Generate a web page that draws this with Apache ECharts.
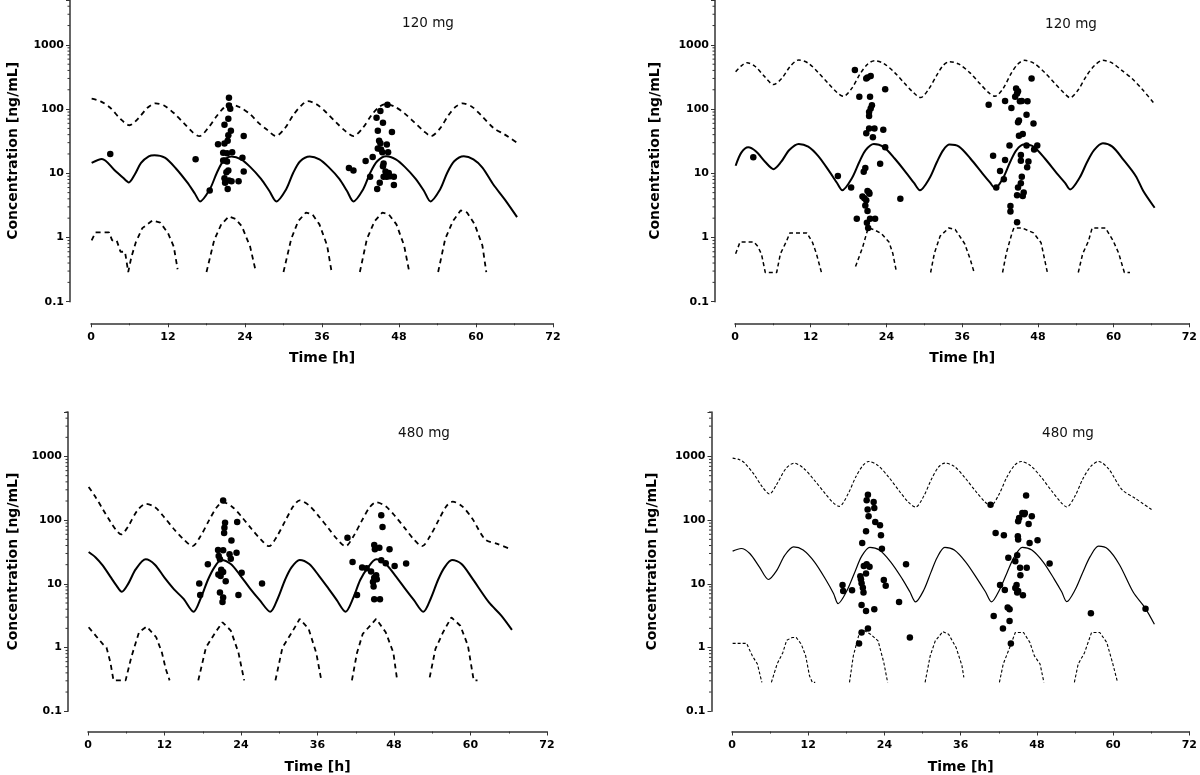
<!DOCTYPE html>
<html>
<head>
<meta charset="utf-8">
<script src="https://cdn.jsdelivr.net/npm/echarts@6/dist/echarts.min.js"></script>
<style>html,body{margin:0;padding:0;background:#fff}#c{width:1200px;height:775px}</style>
</head>
<body>
<div id="c"></div>
<script>
// ---------- data ----------
const panelTitles = ['120 mg', '120 mg', '480 mg', '480 mg'];
const xTitle = 'Time [h]';
const yTitle = 'Concentration [ng/mL]';
const yTickLabels = ['0.1', '1', '10', '100', '1000'];
const minorTickVals = [0.2,0.3,0.4,0.5,0.6,0.7,0.8,0.9,2,3,4,5,6,7,8,9,20,30,40,50,60,70,80,90,200,300,400,500,600,700,800,900,2000,3000,4000,5000];

// Panel 1 (top-left)
const p1Median = [[0.1,14.5],[1.7,16.7],[3.6,11.4],[5.0,8.5],[5.9,7.2],[6.8,9.5],[7.8,14.5],[9.0,18.4],[9.9,19.1],[11.5,17.5],[13.2,12],[15.0,7.2],[16.2,4.8],[17.0,3.65],[18.5,5.6],[19.6,10.1],[20.6,15.4],[21.9,18.3],[23.4,16.5],[24.8,12.6],[26.5,8.2],[27.8,5.3],[28.9,3.65],[30.4,5.6],[31.5,10.1],[32.6,15.4],[34.1,18.3],[35.6,16.5],[37.0,12.6],[38.7,8.2],[39.9,5.3],[40.9,3.65],[42.4,5.6],[43.5,10.1],[44.6,15.4],[46.0,18.5],[47.5,16.5],[48.9,12.6],[50.6,8.2],[51.9,5.3],[52.9,3.65],[54.4,5.6],[55.5,10.1],[56.6,15.4],[58.1,18.5],[59.6,16.5],[61.0,12.3],[62.7,6.7],[64.5,3.9],[66.4,2.08]];
const p1Upper = [[0.1,145],[1.5,132],[3.0,105],[4.6,70],[6.0,56],[7.4,72],[8.8,105],[10.1,123],[11.5,112],[13.0,85],[14.5,60],[15.9,43],[16.9,37.8],[18.2,50],[19.6,78],[20.7,105],[21.6,119],[23.1,108],[24.8,83],[26.2,60],[27.4,48],[28.8,38],[30.2,50],[31.5,80],[32.7,112],[33.8,133],[35.2,118],[36.7,88],[38.2,62],[39.7,45],[40.9,38],[42.3,50],[43.7,80],[44.9,108],[46.0,120],[47.4,108],[48.9,85],[50.4,62],[51.9,45],[53.0,38],[54.4,50],[55.7,80],[56.9,110],[57.9,123],[59.3,110],[60.8,80],[62.7,51],[64.5,40],[66.4,29.8]];
const p1Lower = [[0.1,0.9],[0.7,1.2],[2.8,1.2],[3.3,0.9],[4.0,0.9],[4.6,0.6],[5.3,0.6],[5.8,0.29],[6.3,0.5],[7.0,0.85],[8.0,1.4],[9.6,1.85],[10.8,1.7],[12.0,1.17],[12.9,0.72],[13.5,0.32],[13.6,null],[18.0,0.29],[19.2,0.91],[20.3,1.6],[21.5,2.13],[22.5,1.95],[23.5,1.5],[24.8,0.72],[25.7,0.29],[25.8,null],[30.0,0.29],[31.2,0.95],[32.3,1.8],[33.5,2.45],[34.5,2.3],[35.6,1.6],[36.8,0.75],[37.5,0.29],[37.6,null],[41.9,0.29],[43.0,0.95],[44.2,1.8],[45.4,2.45],[46.4,2.3],[47.6,1.6],[48.8,0.75],[49.6,0.29],[49.7,null],[54.1,0.29],[55.2,0.95],[56.4,1.8],[57.6,2.64],[58.6,2.45],[59.8,1.6],[61.0,0.75],[61.6,0.29]];
const p1Obs = [[3.0,20],[16.3,16.6],[18.5,5.4],[19.8,28.4],[20.8,29],[20.8,57],[21.5,150],[21.5,114],[21.7,101],[21.4,71],[21.4,39],[21.8,46],[21.3,32],[23.8,38],[20.6,20.8],[21.2,20.6],[22.0,21.2],[20.6,15.8],[20.9,15.8],[21.2,15.2],[23.6,17.4],[21.4,11.1],[21.1,10.4],[20.8,8.4],[23.8,10.7],[21.5,7.7],[20.9,7.1],[21.9,7.5],[23.0,7.5],[21.3,5.7],[40.2,12.1],[40.9,11.1],[42.8,15.6],[43.5,8.8],[43.9,18],[44.5,73],[45.1,93],[44.7,46],[45.5,61],[44.9,32],[45.1,29.4],[46.1,28],[46.9,43.8],[46.2,117],[44.7,24.3],[45.2,23.5],[45.4,21.3],[46.3,21.3],[45.6,14.2],[45.5,12.9],[45.9,10.7],[46.4,10.1],[46.1,8.8],[45.6,8.8],[46.6,9.0],[47.2,8.8],[45.0,7.1],[44.6,5.7],[47.2,6.6]];

// Panel 2 (top-right)
const p2Median = [[0.1,13.1],[1.0,21],[2.1,25.4],[3.3,22],[4.8,15],[6.1,11.6],[7.3,15],[8.6,23],[10.1,28.7],[11.6,26],[13.2,18.5],[15.0,10.5],[16.2,7.0],[17.0,5.45],[18.5,8.3],[19.7,15],[20.7,23],[22.0,28.7],[23.5,26],[25.3,17],[27.2,10],[28.4,7.0],[29.3,5.45],[30.8,8.3],[32.0,15],[33.0,23],[34.0,28],[35.5,26],[37.3,17],[39.2,10],[40.4,7.2],[41.2,5.85],[42.5,8.5],[43.6,15],[44.6,23],[45.8,28],[47.3,26],[49.1,17],[51.0,10],[52.3,7.1],[53.1,5.6],[54.6,8.5],[55.8,15],[56.9,23],[58.3,29.4],[59.8,26],[61.5,16.5],[63.5,9.1],[64.7,5.3],[66.5,2.91]];
const p2Upper = [[0.1,382],[1.0,470],[1.9,528],[3.2,460],[4.7,320],[6.1,241],[7.4,300],[8.8,470],[10.1,582],[11.6,520],[13.2,370],[14.8,250],[16.2,180],[17.2,158],[18.5,210],[19.8,350],[21.0,500],[22.1,568],[23.6,510],[25.3,370],[26.9,250],[28.3,180],[29.4,151],[30.7,205],[32.0,340],[33.0,480],[34.0,548],[35.5,500],[37.2,370],[38.8,250],[40.2,180],[41.2,158],[42.5,210],[43.7,350],[44.8,500],[45.9,575],[47.4,515],[49.1,370],[50.7,250],[52.1,180],[53.1,150],[54.4,200],[55.7,330],[57.0,480],[58.3,575],[59.8,520],[61.3,400],[62.9,300],[64.6,200],[66.5,120]];
const p2Lower = [[0.1,0.56],[0.8,0.85],[3.0,0.85],[3.6,0.73],[4.2,0.55],[4.8,0.285],[6.6,0.285],[7.2,0.56],[8.1,0.85],[8.7,1.18],[11.4,1.18],[12.3,0.83],[12.9,0.56],[13.7,0.285],[13.8,null],[19.1,0.354],[20.2,0.69],[21.1,1.41],[22.0,1.33],[23.2,1.15],[24.4,0.85],[25.0,0.57],[25.6,0.285],[25.7,null],[31.0,0.285],[31.6,0.57],[32.5,1.05],[33.9,1.41],[34.9,1.33],[36.4,0.8],[37.3,0.45],[37.9,0.285],[38.0,null],[42.4,0.285],[43.0,0.57],[43.9,1.18],[44.2,1.41],[45.5,1.41],[47.3,1.18],[48.5,0.83],[49.5,0.285],[49.6,null],[54.4,0.285],[55.1,0.56],[56.0,0.87],[56.6,1.41],[58.7,1.41],[59.9,0.9],[60.8,0.57],[61.7,0.285],[62.6,0.285]];
const p2Obs = [[2.9,17.7],[16.3,9.1],[18.4,6.0],[19.0,405],[19.7,155],[20.8,300],[21.0,310],[21.5,327],[21.4,155],[21.7,115],[21.5,102],[21.25,90],[21.25,78],[21.25,50],[22.1,50],[20.8,42],[21.85,36.5],[23.5,47.5],[23.8,204],[23.8,25.4],[23.0,14.1],[20.65,12.1],[20.4,10.6],[20.2,4.34],[20.5,4.1],[20.8,3.8],[21.0,5.3],[21.25,5.0],[21.3,4.8],[20.65,3.16],[21.0,2.58],[19.3,1.95],[21.4,1.95],[22.2,1.95],[20.9,1.69],[21.1,1.41],[26.2,4.03],[40.2,117],[40.9,18.8],[41.4,6.0],[42.0,10.9],[42.6,8.1],[42.8,16.1],[42.8,134],[43.5,27],[43.8,104],[43.65,3.09],[43.65,2.55],[44.55,209],[44.85,190],[44.4,155],[44.7,175],[45.15,132],[45.45,134],[46.35,132],[44.85,62.6],[45.0,66.7],[46.2,81.6],[47.3,59.7],[45.0,38.3],[45.6,41],[44.7,4.55],[44.85,6.0],[45.3,7.0],[45.45,8.8],[45.3,15.7],[45.3,19.3],[45.6,4.43],[45.75,5.0],[46.3,12.4],[46.5,15.3],[46.2,27],[47.4,23.4],[47.9,27],[47.0,300],[44.7,1.73]];

// Panel 3 (bottom-left)
const p3Median = [[0.1,31.6],[1.2,26],[2.3,19.5],[3.5,13.0],[4.5,9.3],[5.3,7.5],[6.3,10],[7.5,17],[9.05,24.3],[10.5,20],[12.0,12.5],[13.5,8.2],[15.0,5.8],[16.55,3.65],[17.7,6],[18.8,11.5],[19.8,18],[20.9,23.7],[22.4,20.5],[23.9,13.5],[25.4,8.5],[26.9,5.6],[28.6,3.65],[29.8,6],[30.9,11.5],[31.9,18],[33.2,23.7],[34.7,20.5],[36.2,13.5],[37.7,8.5],[39.0,5.6],[40.4,3.65],[41.6,6],[42.7,11.5],[43.9,18],[45.2,24.3],[46.7,20.5],[48.2,13.5],[49.7,8.5],[51.1,5.6],[52.6,3.65],[53.8,6],[54.9,11.5],[55.9,18],[57.1,23.7],[58.6,20.5],[60.2,12.5],[62.9,5.1],[64.8,3.2],[66.5,1.89]];
const p3Upper = [[0.1,332],[1.2,230],[2.3,150],[3.5,95],[4.5,68],[5.2,59.7],[6.3,80],[7.7,140],[9.05,180],[10.5,160],[12.0,110],[13.5,72],[15.0,50],[16.4,39.2],[17.6,55],[19.0,100],[20.2,160],[21.2,191],[22.7,160],[24.2,110],[25.7,72],[27.1,50],[28.4,39],[29.6,55],[31.0,100],[32.2,165],[33.2,205],[34.7,170],[36.2,115],[37.7,75],[39.1,50],[40.4,39],[41.6,55],[43.0,100],[44.2,160],[45.2,191],[46.7,165],[48.2,115],[49.7,75],[51.1,50],[52.4,39],[53.6,55],[55.0,100],[56.2,165],[57.2,195],[58.7,165],[60.3,105],[62.3,50],[64.3,42],[66.4,34.8]];
const p3Lower = [[0.1,2.08],[1.3,1.5],[2.3,1.14],[2.9,1.0],[3.5,0.59],[4.0,0.305],[5.9,0.305],[6.8,0.71],[8.0,1.74],[9.2,2.13],[10.7,1.45],[11.6,0.83],[12.2,0.46],[12.8,0.305],[12.9,null],[17.3,0.305],[18.5,1.0],[20.0,1.74],[21.1,2.49],[22.4,1.85],[23.6,0.83],[24.5,0.305],[24.6,null],[29.4,0.305],[30.5,1.0],[32.0,1.74],[33.2,2.81],[34.6,1.97],[35.8,0.83],[36.6,0.305],[36.7,null],[41.4,0.305],[42.2,0.83],[43.1,1.64],[45.2,2.81],[46.7,1.74],[47.9,0.83],[48.5,0.305],[48.6,null],[53.6,0.34],[54.5,0.95],[55.7,1.74],[57.0,2.98],[58.4,2.2],[59.6,1.07],[60.5,0.305],[61.1,0.305]];
const p3Obs = [[17.45,10.1],[17.6,6.7],[18.8,20.3],[21.2,203],[21.5,91],[21.4,76],[21.35,63],[23.4,94],[22.5,48],[20.4,34],[21.2,33.6],[20.5,27.4],[20.7,24.3],[22.2,29.1],[22.4,24.9],[23.3,30.9],[20.45,14],[20.8,13.3],[20.9,16.6],[21.2,15.4],[24.1,15],[21.6,11],[20.7,7.3],[21.2,6.1],[21.1,5.2],[23.6,6.7],[27.3,10.1],[40.7,53],[41.5,22],[42.2,6.7],[43.0,18],[43.7,17.6],[44.4,15.6],[44.9,40.6],[45.0,34.8],[45.7,37],[46.0,120],[46.2,78],[47.3,34.8],[46.0,23.4],[46.7,21],[48.1,19.1],[49.9,20.8],[45.2,13.6],[44.9,12.5],[45.3,11.8],[44.7,10.7],[44.8,9.1],[44.9,5.75],[45.8,5.75]];

// Panel 4 (bottom-right)
const p4Median = [[0.1,32.7],[1.45,35.9],[2.8,30],[4.3,18.5],[5.75,11.7],[7.0,16],[8.3,28],[9.7,38.1],[11.2,34],[13.0,22],[14.8,11.5],[16.0,7.0],[16.7,4.9],[18.0,7.5],[19.3,15],[20.4,27],[21.7,37.5],[23.2,34],[25.0,22],[26.8,12],[28.0,7.5],[28.9,5.2],[30.2,8],[31.3,15],[32.3,26],[33.5,37.5],[35.0,34],[36.8,22],[38.6,12],[39.9,7.5],[40.85,5.2],[42.1,8],[43.3,15],[44.4,26],[45.7,37.5],[47.2,34],[49.0,22],[50.7,12],[51.9,7.5],[52.7,5.25],[54.0,8],[55.2,15],[56.4,27],[57.7,39],[59.2,35],[61.0,20],[63.2,7.3],[65.0,4.24],[66.5,2.32]];
const p4Upper = [[0.1,942],[1.2,890],[2.0,787],[3.5,520],[4.8,330],[5.9,258],[7.0,360],[8.5,650],[9.8,787],[11.3,650],[13.0,420],[14.7,260],[16.0,185],[16.9,165],[18.2,250],[19.5,480],[20.6,720],[21.5,836],[23.0,720],[24.7,470],[26.3,290],[27.8,190],[28.9,161],[30.2,240],[31.4,440],[32.5,680],[33.5,787],[35.0,700],[36.7,460],[38.3,290],[39.8,195],[40.7,168],[42.0,250],[43.3,480],[44.5,730],[45.5,836],[47.0,720],[48.7,470],[50.3,290],[51.8,190],[52.7,161],[54.0,240],[55.3,460],[56.6,720],[57.7,836],[59.3,640],[61.4,301],[63.5,220],[66.3,141]];
const p4Lower = [[0.1,1.16],[2.3,1.16],[3.2,0.74],[4.0,0.55],[4.7,0.284],[4.8,null],[6.2,0.284],[7.1,0.55],[8.0,0.83],[8.6,1.3],[9.5,1.44],[10.1,1.44],[10.9,1.13],[11.6,0.74],[12.2,0.36],[12.65,0.284],[13.1,0.284],[13.2,null],[18.5,0.284],[19.1,0.74],[20.0,1.62],[20.9,1.83],[21.8,1.62],[23.0,1.27],[23.9,0.58],[24.5,0.284],[24.6,null],[30.4,0.284],[31.2,0.74],[32.0,1.27],[33.2,1.78],[34.1,1.62],[35.3,0.99],[36.2,0.52],[36.5,0.34],[36.6,null],[42.1,0.284],[42.7,0.55],[43.7,0.99],[44.6,1.72],[45.9,1.72],[46.9,1.2],[47.6,0.74],[48.5,0.55],[49.1,0.284],[49.2,null],[53.9,0.284],[54.5,0.55],[55.5,0.83],[56.6,1.72],[57.9,1.72],[59.0,1.2],[59.9,0.58],[60.7,0.284]];
const p4Obs = [[17.4,9.6],[17.5,7.7],[18.9,7.9],[20.0,1.16],[20.4,1.72],[20.4,4.67],[20.5,44],[20.2,13.2],[20.3,11.8],[20.4,10.2],[20.6,8.7],[20.7,7.3],[20.75,19],[21.1,67],[21.2,205],[21.4,251],[21.35,147],[21.5,115],[21.2,20.4],[21.1,14.6],[21.1,3.76],[21.4,1.99],[21.65,18.5],[22.3,193],[22.4,156],[22.55,94],[22.4,4.0],[23.3,83],[23.45,58],[23.6,35.5],[23.9,11.5],[24.2,9.3],[26.3,5.2],[27.4,20.4],[28.0,1.44],[40.7,175],[41.2,3.14],[41.5,63],[42.2,9.6],[42.65,1.99],[42.8,58],[42.95,8.0],[43.4,4.24],[43.7,4.0],[43.7,2.62],[43.9,1.16],[43.5,25.7],[44.6,22.7],[44.8,9.6],[44.6,8.6],[44.9,7.3],[45.05,7.7],[44.9,28.2],[45.0,56],[45.05,49.7],[45.05,96],[45.2,108],[45.7,130],[46.0,124],[46.1,130],[46.3,245],[45.35,17.9],[45.4,13.7],[45.8,6.6],[46.7,87],[46.85,44],[46.4,17.9],[47.2,115],[48.1,48.5],[50.0,20.9],[56.5,3.45],[65.1,4.08]];

// ---------- layout / styles ----------
const FONT = 'DejaVu Sans';
const panels = [
  { grid:{left:91, top:0, width:462, height:301.7}, yOff:21, xOff:21.6, yGap:50, title:[428,23],
    med:p1Median, up:p1Upper, low:p1Lower, obs:p1Obs, lw:2, dw:1.8, dash:[5,4] },
  { grid:{left:735, top:0, width:458.5, height:301.7}, yOff:20, xOff:21.6, yGap:53, title:[1071,24],
    med:p2Median, up:p2Upper, low:p2Lower, obs:p2Obs, lw:2, dw:1.5, dash:[4,3] },
  { grid:{left:88, top:412, width:459, height:300}, yOff:20, xOff:20.3, yGap:48, title:[424,433],
    med:p3Median, up:p3Upper, low:p3Lower, obs:p3Obs, lw:2, dw:1.8, dash:[5,4] },
  { grid:{left:732, top:412, width:458.5, height:300}, yOff:20.5, xOff:20.3, yGap:52, title:[1068,433],
    med:p4Median, up:p4Upper, low:p4Lower, obs:p4Obs, lw:1.2, dw:1.1, dash:[3,2] }
];

const grids = [], xAxes = [], yAxes = [], series = [], graphics = [];
panels.forEach((p, i) => {
  grids.push(p.grid);
  xAxes.push({
    gridIndex:i, type:'value', min:0, max:72, interval:12, offset:p.xOff,
    axisLine:{show:true, onZero:false, lineStyle:{color:'#333', width:1.5}},
    axisTick:{show:true, length:4, lineStyle:{color:'#333', width:1}},
    minorTick:{show:true, splitNumber:2, length:2, lineStyle:{color:'#333', width:1}},
    splitLine:{show:false},
    axisLabel:{fontFamily:FONT, fontWeight:'bold', fontSize:11, color:'#000', margin:8},
    name:xTitle, nameLocation:'middle', nameGap:28.5,
    nameTextStyle:{fontFamily:FONT, fontWeight:'bold', fontSize:14, color:'#000'}
  });
  yAxes.push({
    gridIndex:i, type:'log', logBase:10, min:0.1, max:5000, offset:p.yOff,
    axisLine:{show:true, onZero:false, lineStyle:{color:'#333', width:1.5}},
    axisTick:{show:true, length:4, lineStyle:{color:'#333', width:1}},
    splitLine:{show:false},
    axisLabel:{fontFamily:FONT, fontWeight:'bold', fontSize:11, color:'#000', margin:6,
      formatter:(v) => { const l = Math.log10(v); const r = Math.round(l);
        return Math.abs(l - r) < 1e-6 && yTickLabels[r + 1] !== undefined ? yTickLabels[r + 1] : ''; }},
    name:yTitle, nameLocation:'middle', nameGap:p.yGap,
    nameTextStyle:{fontFamily:FONT, fontWeight:'bold', fontSize:14, color:'#000'}
  });
  series.push({ type:'line', xAxisIndex:i, yAxisIndex:i, data:p.up, showSymbol:false, symbol:'none',
    smooth:0.3, lineStyle:{color:'#000', width:p.dw, type:p.dash}, silent:true, z:2 });
  series.push({ type:'line', xAxisIndex:i, yAxisIndex:i, data:p.med, showSymbol:false, symbol:'none',
    smooth:0.3, lineStyle:{color:'#000', width:p.lw, type:'solid'}, silent:true, z:2 });
  series.push({ type:'line', xAxisIndex:i, yAxisIndex:i, data:p.low, showSymbol:false, symbol:'none',
    connectNulls:false, lineStyle:{color:'#000', width:p.dw, type:p.dash}, silent:true, z:2 });
  series.push({ type:'scatter', xAxisIndex:i, yAxisIndex:i, data:p.obs, symbol:'circle', symbolSize:6.5,
    itemStyle:{color:'#000', opacity:1}, silent:true, z:3 });
  const off = p.yOff;
  series.push({ type:'custom', xAxisIndex:i, yAxisIndex:i, data:minorTickVals.map(v => [0, v]), silent:true, clip:false,
    renderItem:(params, api) => {
      const pt = api.coord([0, api.value(1)]);
      const x = pt[0] - off;
      return { type:'line', shape:{x1:x, y1:pt[1], x2:x - 2.5, y2:pt[1]}, style:{stroke:'#333', lineWidth:1} };
    }});
  graphics.push({ type:'text', x:p.title[0], y:p.title[1],
    style:{text:panelTitles[i], fontFamily:FONT, fontSize:13.5, fill:'#111', align:'center', verticalAlign:'middle'} });
});

const chart = echarts.init(document.getElementById('c'), null, {renderer:'canvas'});
chart.setOption({
  animation:false,
  backgroundColor:'#fff',
  grid:grids, xAxis:xAxes, yAxis:yAxes, series:series, graphic:graphics
});
</script>
</body>
</html>
